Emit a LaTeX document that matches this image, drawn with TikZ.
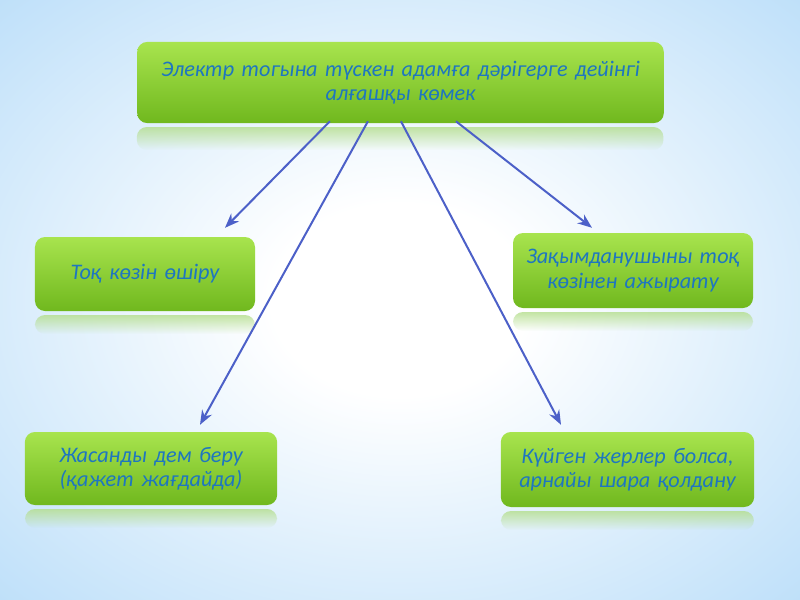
\documentclass[tikz,border=0pt]{standalone}
\usepackage{fontspec}
\setmainfont{Carlito}
\usetikzlibrary{arrows.meta,fadings,calc}
\definecolor{bgblue}{RGB}{166,212,247}
\definecolor{bgcorner}{RGB}{152,202,245}
\definecolor{gtop}{RGB}{168,228,78}
\definecolor{gbot}{RGB}{112,184,30}
\definecolor{txtblue}{RGB}{30,118,192}
\definecolor{arrblue}{RGB}{76,96,200}
\definecolor{refl}{RGB}{180,222,140}
\pgfdeclareradialshading{bgshade}{\pgfpoint{0bp}{0bp}}{color(0bp)=(white); color(8bp)=(white); color(46bp)=(bgblue); color(72bp)=(bgcorner)}
\tikzset{
  gbox/.style={rounded corners=9pt, top color=gtop, bottom color=gbot, draw=none,
    text=txtblue, font=\itshape\fontsize{20}{22}\selectfont, align=center,
    inner sep=0pt},
  conn/.style={draw=arrblue, line width=1.8pt, -{Stealth[length=13pt,width=10pt]}},
  reflbox/.style={fill=refl, path fading=south, rounded corners=9pt}
}
\begin{document}
\begin{tikzpicture}[x=0.9pt,y=-0.9pt]
\useasboundingbox (0,0) rectangle (800,600);
\shade[shading=bgshade] (0,0) rectangle (800,600);
% reflections
\fill[reflbox, opacity=0.8] (137,127) rectangle (664,150);
\fill[reflbox, opacity=0.8] (35,315) rectangle (255,334);
\fill[reflbox, opacity=0.8] (513,312) rectangle (753,331);
\fill[reflbox, opacity=0.8] (25,509) rectangle (277,528);
\fill[reflbox, opacity=0.8] (501,511) rectangle (754,530);
% boxes
\node[gbox, minimum width=474pt, minimum height=73pt, text width=465pt] (top) at (400.5,82.5)
  {Электр тогына түскен адамға дәрігерге дейінгі\\ алғашқы көмек};
\node[gbox, minimum width=198pt, minimum height=66.6pt, text width=195pt] (l1) at (145,274)
  {Тоқ көзін өшіру};
\node[gbox, minimum width=216pt, minimum height=67.5pt, text width=214pt] (r1) at (633,270.5)
  {Зақымданушыны тоқ\\ көзінен ажырату};
\node[gbox, minimum width=227pt, minimum height=65.7pt, text width=224pt] (l2) at (151,468.5)
  {Жасанды дем беру\\ (қажет жағдайда)};
\node[gbox, minimum width=228pt, minimum height=67.5pt, text width=225pt] (r2) at (627.5,469.5)
  {Күйген жерлер болса,\\ арнайы шара қолдану};
% connectors
\draw[conn] ($(top.south west)+(193,-2)$) -- ($(l1.north)+(80,-9)$);
\draw[conn] ($(top.south west)+(231,-2)$) -- ($(l2.north)+(49,-7)$);
\draw[conn] ($(top.south west)+(264,-2)$) -- ($(r2.north)+(-66.5,-7)$);
\draw[conn] ($(top.south west)+(319,-2)$) -- ($(r1.north)+(-41,-5)$);
\end{tikzpicture}
\end{document}
